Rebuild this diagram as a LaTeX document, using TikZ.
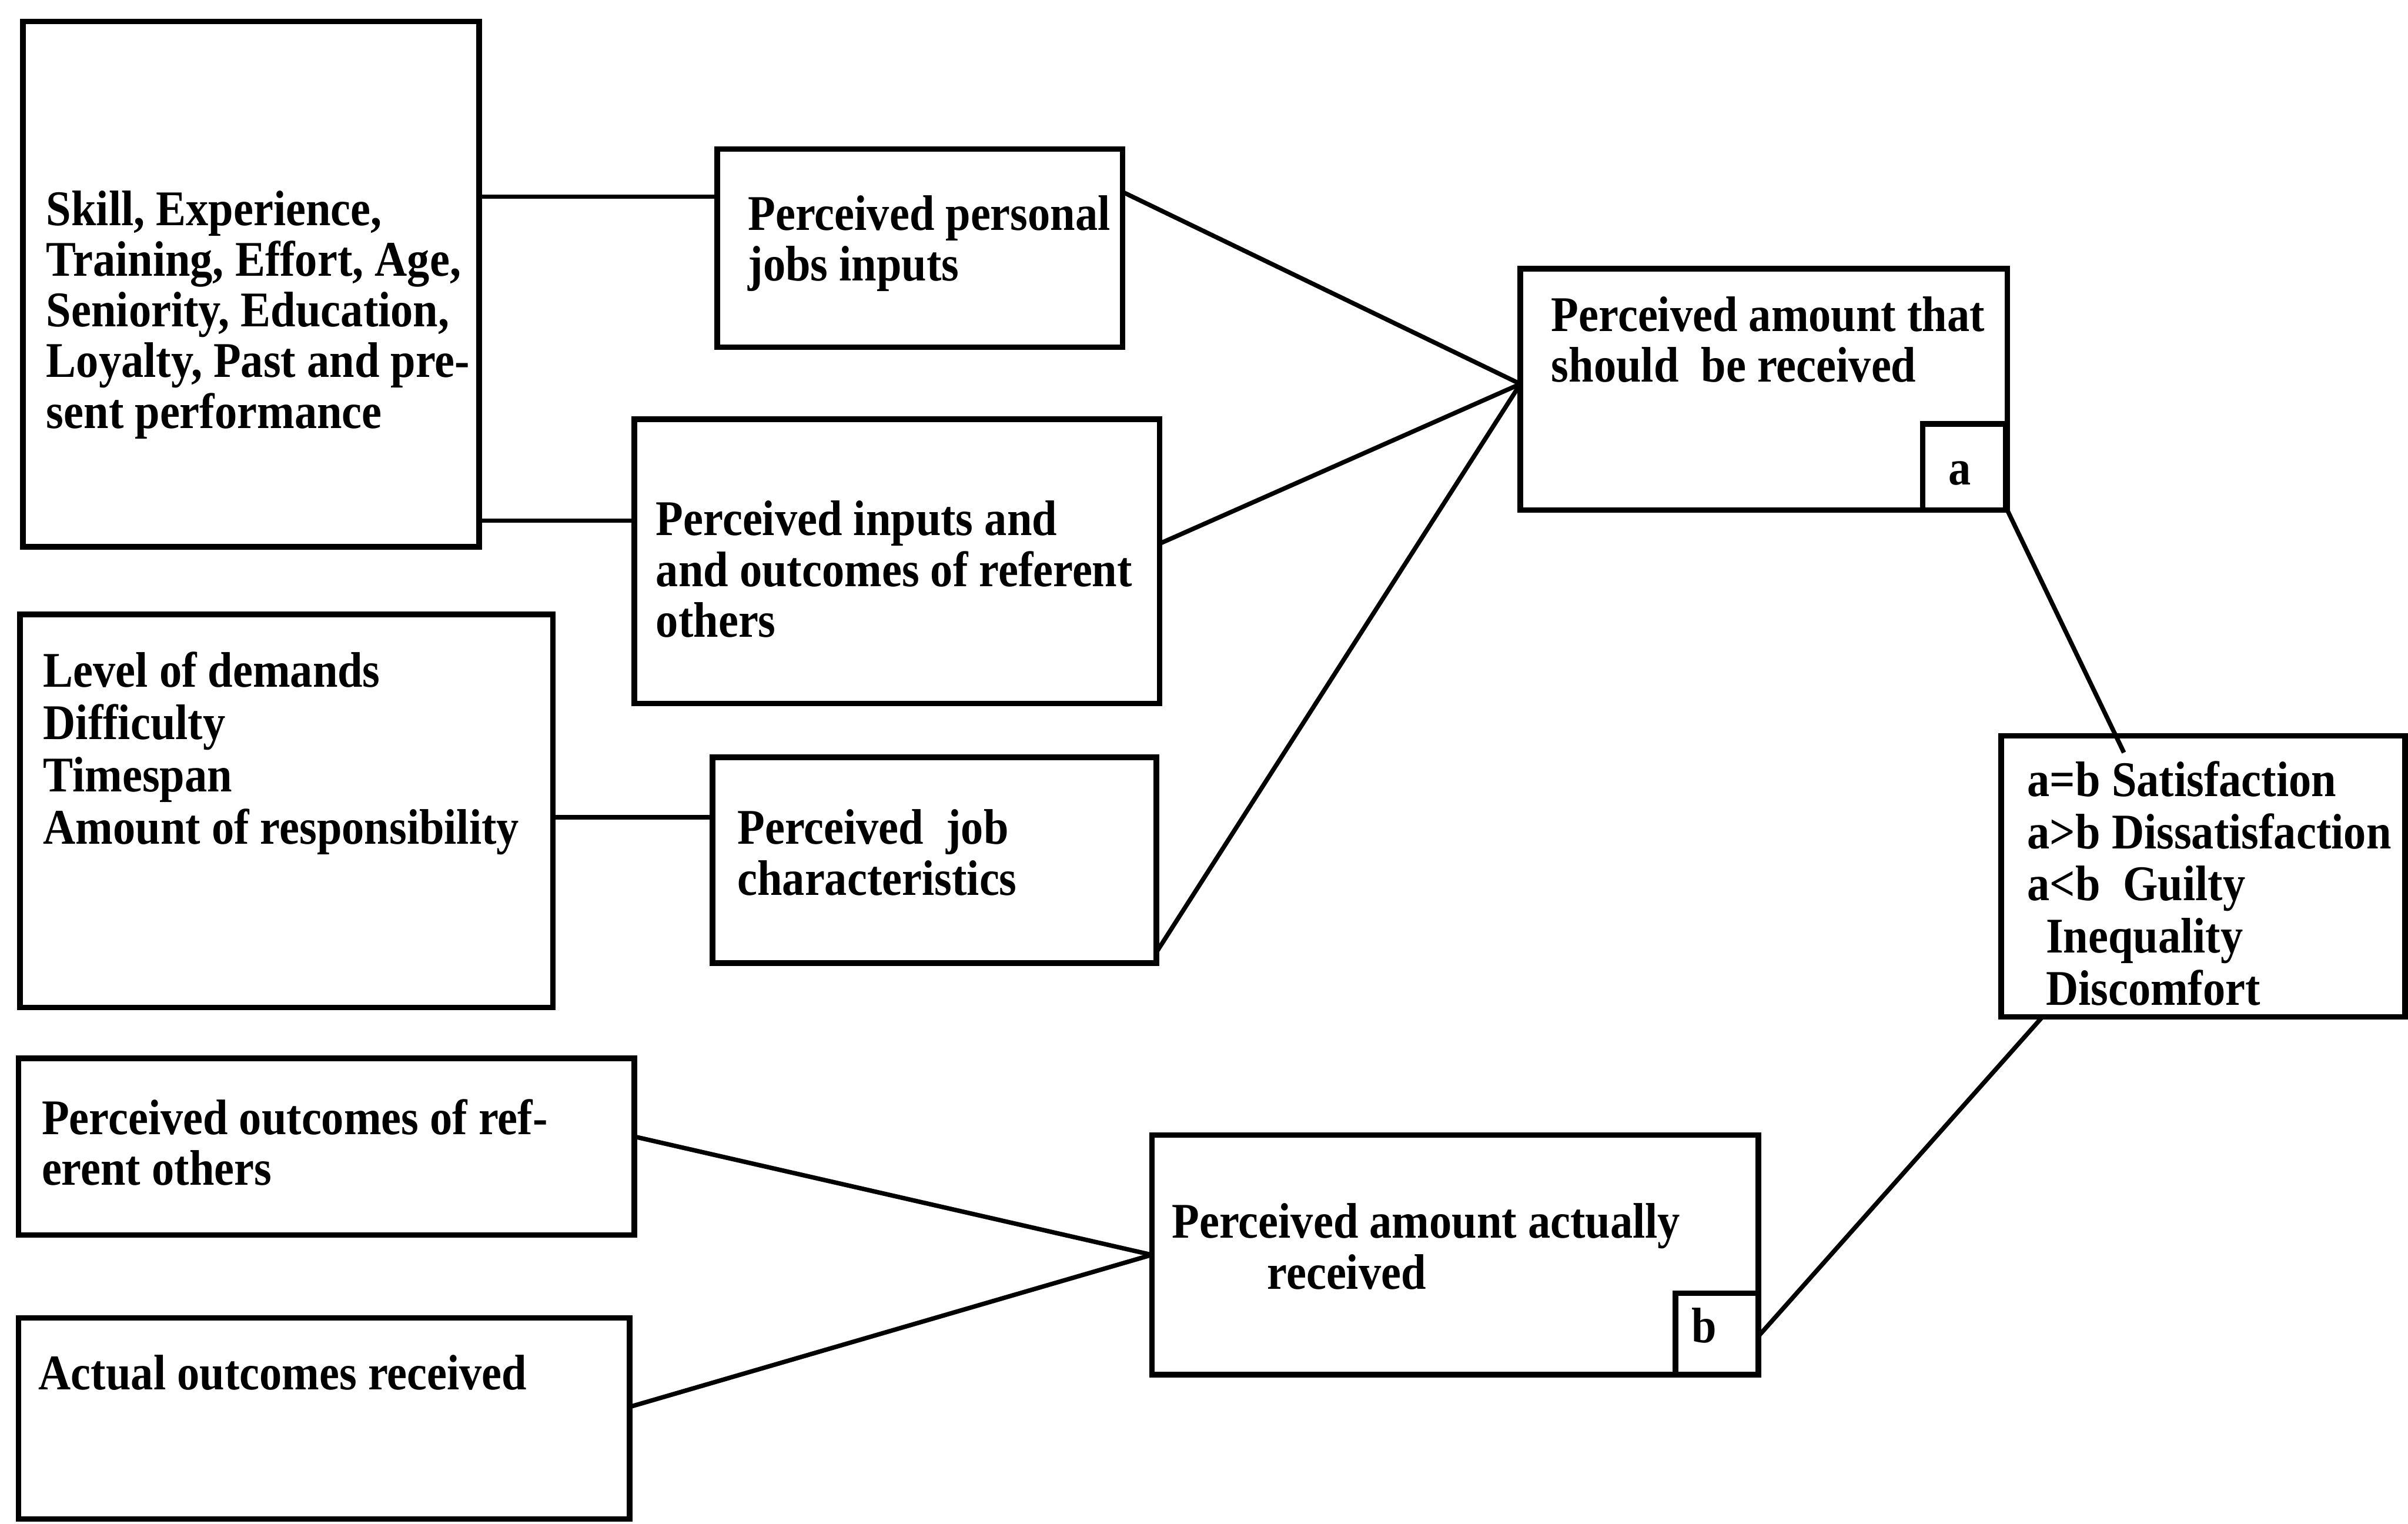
\documentclass[tikz,border=0pt]{standalone}
\usepackage{fontspec}
\setmainfont{Liberation Serif}[FakeStretch=0.9]
\begin{document}
\begin{tikzpicture}[x=1pt,y=-1pt,
  box/.style={draw, line width=3.6pt, inner sep=0pt, outer sep=0pt, anchor=north west},
  conn/.style={line width=2.9pt},
  txt/.style={inner sep=0pt, anchor=north west, align=left, font=\fontsize{32.5}{33}\selectfont\bfseries},
  txtw/.style={txt, font=\fontsize{32.5}{34}\selectfont\bfseries},
  lbl/.style={inner sep=0pt, anchor=base, font=\fontsize{32.5}{33}\selectfont\bfseries}]
\useasboundingbox (0,0) rectangle (1568,992);
% boxes
\node[box, minimum width=297pt, minimum height=342pt] (A) at (15,14) {};
\node[box, minimum width=264pt, minimum height=129pt] (B) at (467,97) {};
\node[box, minimum width=342pt, minimum height=185pt] (C) at (413,273) {};
\node[box, minimum width=347pt, minimum height=256pt] (D) at (13,400) {};
\node[box, minimum width=289pt, minimum height=134pt] (E) at (464,493) {};
\node[box, minimum width=317pt, minimum height=157pt] (F) at (990,175) {};
\node[box, minimum width=54pt, minimum height=56pt] (Fa) at (1252,276) {};
\node[box, minimum width=263pt, minimum height=183pt] (G) at (1303,479) {};
\node[box, minimum width=401pt, minimum height=115pt] (H) at (12,689) {};
\node[box, minimum width=398pt, minimum height=131pt] (I) at (12,858) {};
\node[box, minimum width=395pt, minimum height=156pt] (J) at (750,739) {};
\node[box, minimum width=54pt, minimum height=53pt] (Jb) at (1091,842) {};
% texts
\node[txt] (tA) at (30,123.4) {\strut Skill, Experience,\\Training, Effort, Age,\\Seniority, Education,\\Loyalty, Past and pre-\\sent performance};
\node[txt] (tB) at (487,126.4) {\strut Perceived personal\\jobs inputs};
\node[txt] (tC) at (427,325.4) {\strut Perceived inputs and\\and outcomes of referent\\others};
\node[txtw] (tD) at (28,423.4) {\strut Level of demands\\Difficulty\\Timespan\\Amount of responsibility};
\node[txt] (tE) at (480,526.4) {\strut Perceived\ \ job\\characteristics};
\node[txt] (tF) at (1010,192.4) {\strut Perceived amount that\\should\ \ be received};
\node[txtw] (tG) at (1320,494.4) {\strut a=b Satisfaction\\a>b Dissatisfaction\\a<b\ \ Guilty\\\hspace*{12pt}Inequality\\\hspace*{12pt}Discomfort};
\node[txt] (tH) at (27,715.4) {\strut Perceived outcomes of ref-\\erent others};
\node[txt] (tI) at (25,881.4) {\strut Actual outcomes received};
\node[txt, font=\fontsize{32.5}{32}\selectfont\bfseries] (tJ) at (763,783.4) {\strut Perceived amount actually\\\hspace*{62pt}received};
\node[lbl] (la) at (1276,315.7) {a};
\node[lbl] (lb) at (1109.5,874) {b};
% connector points
\coordinate (Fin) at (F.west |- 0,250);
\coordinate (Gin) at (1383,490);
% connectors
\draw[conn] (A.east |- 0,128) -- (B.west |- 0,128);
\draw[conn] (A.east |- 0,339) -- (C.west |- 0,339);
\draw[conn] (D.east |- 0,532) -- (E.west |- 0,532);
\draw[conn] (B.east |- 0,125) -- (Fin);
\draw[conn] (C.east |- 0,354) -- (Fin);
\draw[conn] (E.east |- 0,620) -- (Fin);
\draw[conn] (F.south east) -- (Gin);
\draw[conn] ([xshift=27pt]G.south west) -- (J.east |- 0,870);
\draw[conn] (H.east |- 0,740) -- (J.west);
\draw[conn] (I.east |- 0,916) -- (J.west);
\end{tikzpicture}
\end{document}
